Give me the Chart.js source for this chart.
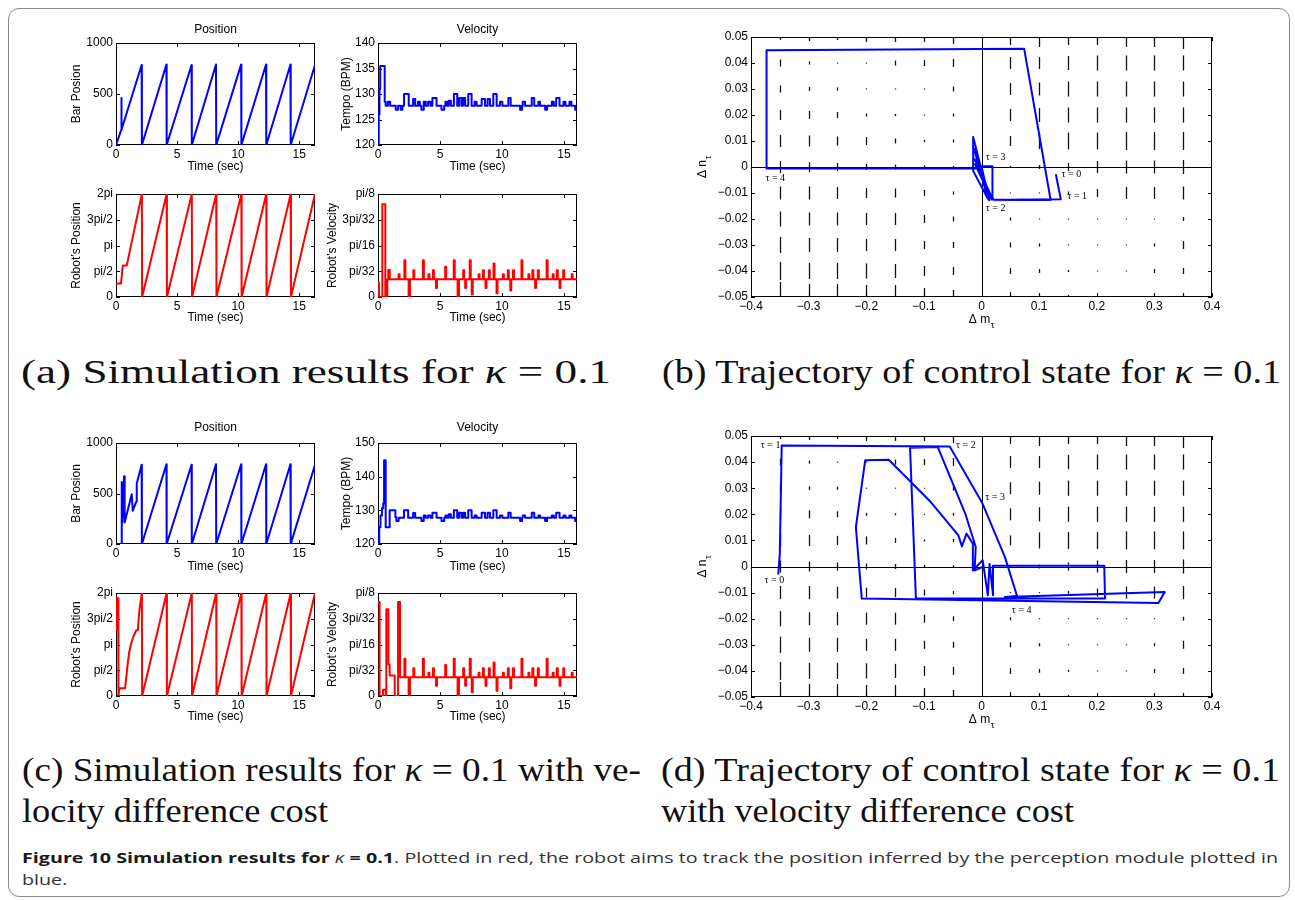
<!DOCTYPE html>
<html>
<head>
<meta charset="utf-8">
<title>Figure 10</title>
<script src="https://cdn.jsdelivr.net/npm/chart.js@4.4.0/dist/chart.umd.min.js"></script>
<style>
body { margin:0; background:#fff; }
#fig { position:relative; width:1295px; height:900px; overflow:hidden; background:#fff; }
#frame { position:absolute; left:8px; top:8px; width:1282px; height:889px; border:1px solid #8a8a8a; border-radius:11px; box-sizing:border-box; }
canvas { position:absolute; }
.sub { position:absolute; font-family:"Liberation Serif", "Times New Roman", Times, serif; font-size:33px; line-height:1.2; white-space:nowrap; transform-origin:0 50%; color:#111; }
.cap { position:absolute; font-family:"Open Sans", sans-serif; font-size:15px; line-height:1.2; white-space:nowrap; transform-origin:0 50%; color:#333; }
.cap b { color:#1a1a1a; }
</style>
</head>
<body>
<div id="fig"><div id="frame"></div></div>
<script>
Chart.defaults.font.family = '"Liberation Sans", Arial, Helvetica, sans-serif';
Chart.defaults.font.size = 12;
Chart.defaults.color = '#000';

// ---- ticks ----
const timeTicks = [0, 5, 10, 15];
const timeTickLabels = ['0', '5', '10', '15'];
const barTicks = [0, 500, 1000];
const barTickLabels = ['0', '500', '1000'];
const tempoTicksA = [120, 125, 130, 135, 140];
const tempoTicksC = [120, 130, 140, 150];
const robotPosTicks = [0, 1, 2, 3, 4];          // units of pi/2
const robotPosLabels = ['0', 'pi/2', 'pi', '3pi/2', '2pi'];
const robotVelTicks = [0, 1, 2, 3, 4];          // units of pi/32
const robotVelLabels = ['0', 'pi/32', 'pi/16', '3pi/32', 'pi/8'];
const mTicks = [-0.4, -0.3, -0.2, -0.1, 0, 0.1, 0.2, 0.3, 0.4];
const mTickLabels = ['\u22120.4', '\u22120.3', '\u22120.2', '\u22120.1', '0', '0.1', '0.2', '0.3', '0.4'];
const nTicks = [-0.05, -0.04, -0.03, -0.02, -0.01, 0, 0.01, 0.02, 0.03, 0.04, 0.05];
const nTickLabels = ['\u22120.05', '\u22120.04', '\u22120.03', '\u22120.02', '\u22120.01', '0', '0.01', '0.02', '0.03', '0.04', '0.05'];

// ---- (a) kappa = 0.1 ----
const barPosA = [[0,0],[0.42,145],[0.44,460],[0.46,150],[2.10,785],[2.12,0],[4.13,790],[4.15,0],[6.19,785],[6.21,0],
  [8.19,790],[8.21,0],[10.25,790],[10.27,0],[12.29,790],[12.31,0],[14.29,790],[14.31,0],[16.3,785]];
const tempoA = [[0,120],[0.06,126],[0.12,131],[0.18,135.5],[0.54,128.5],[0.62,127.7],[0.8,128.5],[0.98,127.7],
  [1.43,126.9],[1.62,127.7],[1.83,126.9],[1.97,127.7],[2.10,130],[2.48,127.7],[2.83,129],[3.0,127.7],
  [3.23,128.5],[3.37,127.7],[3.50,126.9],[3.69,128.5],[3.85,127.7],[4.04,128.5],[4.23,127.7],[4.39,129.2],[4.72,127.7],
  [5.12,126.9],[5.34,127.7],[5.44,128.5],[5.58,127.7],[5.71,128.7],[5.88,127.7],[6.12,130],[6.39,127.7],
  [6.55,129.2],[6.74,127.7],[6.87,129.2],[7.03,127.7],[7.28,130],[7.55,127.7],[7.79,128.5],[7.95,127.7],
  [8.36,129],[8.63,127.7],[8.84,129],[9.03,127.7],[9.30,130],[9.57,127.7],[9.84,128.5],[10.03,127.7],
  [10.51,129.2],[10.70,127.7],[11.46,126.9],[11.62,127.7],[11.67,128.5],[11.86,127.7],[12.40,129.2],[12.60,127.7],
  [12.94,128.5],[13.07,127.7],[13.48,126.9],[13.64,127.7],[14.02,128.5],[14.18,127.7],[14.37,129.2],[14.64,127.7],
  [14.96,128.5],[15.12,127.7],[15.44,128.5],[15.60,127.7],[15.90,126.9],[16.05,126.9]];
const robotPosA = [[0,0.52],[0.40,0.52],[0.47,0.8],[0.52,1.1],[0.58,1.22],[0.88,1.22],[2.12,4],[2.14,0],[4.15,4],[4.17,0],
  [6.21,4],[6.23,0],[8.21,4],[8.23,0],[10.27,4],[10.29,0],[12.31,4],[12.33,0],[14.31,4],[14.33,0],[16.3,4]];
const robotVelA = [[0,0.55],[0.08,0],[0.35,3.6],[0.59,0],[0.75,0.69],[0.83,1.05],[0.95,0.69],
  [1.66,0.88],[1.74,0.69],[2.13,1.43],[2.21,0.69],[2.47,0],[2.58,0.69],[2.85,1.04],[2.93,0.69],
  [3.62,1.43],[3.70,0.69],[4.07,0.88],[4.15,0.69],[4.43,1.04],[4.51,0.69],[4.68,0.35],[4.76,0.69],
  [5.42,1.17],[5.50,0.69],[6.11,1.43],[6.19,0.69],[6.42,0],[6.53,0.69],[6.87,1.04],[6.95,0.69],
  [7.03,0.35],[7.11,0.69],[7.40,1.43],[7.48,0.69],[7.56,0.1],[7.64,0.69],[8.11,0.88],[8.19,0.69],
  [8.46,1.04],[8.54,0.69],[8.67,0.35],[8.75,0.69],[8.94,1.04],[9.02,0.69],[9.32,1.3],[9.40,0.69],
  [9.56,0.15],[9.64,0.69],[10.07,0.88],[10.15,0.69],[10.47,1.04],[10.55,0.69],[10.67,0.25],[10.75,0.69],
  [10.89,1.04],[10.97,0.69],[11.57,1.43],[11.65,0.69],[12.13,0.88],[12.21,0.69],[12.45,1.04],[12.53,0.69],
  [12.67,0.35],[12.75,0.69],[12.89,1.04],[12.97,0.69],[13.60,1.43],[13.68,0.69],[14.09,0.88],[14.17,0.69],
  [14.42,1.04],[14.50,0.69],[14.64,0.35],[14.72,0.69],[14.94,1.04],[15.02,0.69],[15.62,0.88],[15.70,0.69],[16.05,0.69]];

// ---- (c) kappa = 0.1 with velocity difference cost ----
const barPosC = [[0,0],[0.46,0],[0.47,615],[0.52,214],[0.66,671],[0.71,214],[1.29,493],[1.37,329],[1.65,418],[1.70,599],
  [2.10,785],[2.12,0],[4.13,790],[4.15,0],[6.19,785],[6.21,0],[8.19,790],[8.21,0],[10.25,790],[10.27,0],
  [12.29,790],[12.31,0],[14.29,790],[14.31,0],[16.3,785]];
const tempoC = [[0,120],[0.1,125],[0.2,128.5],[0.32,130.6],[0.42,132],[0.49,144.9],[0.62,125],[0.94,130],[1.40,128],
  [1.48,126.8],[1.67,127.8],[2.10,130],[2.43,127.8],[2.83,129.2],[3.0,127.8],[3.50,126.8],[3.69,128.5],[3.85,127.8],
  [4.04,128.5],[4.23,127.8],[4.39,129.3],[4.72,127.8],[5.12,126.8],[5.34,127.8],[5.44,128.5],[5.58,127.8],
  [5.71,128.8],[5.88,127.8],[6.12,130],[6.39,127.8],[6.55,129.3],[6.74,127.8],[6.87,129.3],[7.03,127.8],
  [7.28,130],[7.55,127.8],[7.79,128.5],[7.95,127.8],[8.36,129.3],[8.63,127.8],[8.84,129.3],[9.03,127.8],
  [9.30,130],[9.57,127.8],[9.84,128.5],[10.03,127.8],[10.51,129.3],[10.70,127.8],[11.46,126.8],[11.62,127.8],
  [11.67,128.5],[11.86,127.8],[12.40,129.3],[12.60,127.8],[12.94,128.5],[13.07,127.8],[13.48,126.8],[13.64,127.8],
  [14.02,128.5],[14.18,127.8],[14.37,129.3],[14.64,127.8],[14.96,128.5],[15.12,127.8],[15.44,128.5],[15.60,127.8],
  [15.90,126.8],[16.05,126.8]];
const robotPosC = [[0,2.57],[0.03,3.8],[0.18,3.8],[0.20,0],[0.27,0.3],[0.74,0.3],[0.82,0.62],[0.93,1.14],[1.07,1.66],
  [1.21,1.99],[1.43,2.31],[1.65,2.55],[1.79,2.55],[1.84,2.9],[1.92,3.35],[2.12,4],[2.14,0],[4.15,4],[4.17,0],
  [6.21,4],[6.23,0],[8.21,4],[8.23,0],[10.27,4],[10.29,0],[12.31,4],[12.33,0],[14.31,4],[14.33,0],[16.3,4]];
const robotVelC = [[0,3.65],[0.13,0],[0.40,0.24],[0.62,0],[0.67,3.37],[0.84,1.22],[0.94,0.8],[1.35,0],[1.62,3.65],[1.78,0.73],
  [2.13,1.45],[2.21,0.73],[2.47,0.05],[2.58,0.73],[2.85,1.08],[2.93,0.73],[3.62,1.45],[3.70,0.73],
  [4.07,0.9],[4.15,0.73],[4.43,1.08],[4.51,0.73],[4.68,0.4],[4.76,0.73],[5.42,1.2],[5.50,0.73],
  [6.11,1.45],[6.19,0.73],[6.42,0],[6.53,0.73],[6.87,1.08],[6.95,0.73],[7.03,0.4],[7.11,0.73],
  [7.40,1.45],[7.48,0.73],[7.56,0.15],[7.64,0.73],[8.11,0.9],[8.19,0.73],[8.46,1.08],[8.54,0.73],
  [8.67,0.4],[8.75,0.73],[8.94,1.08],[9.02,0.73],[9.32,1.3],[9.40,0.73],[9.56,0.2],[9.64,0.73],
  [10.07,0.9],[10.15,0.73],[10.47,1.08],[10.55,0.73],[10.67,0.3],[10.75,0.73],[10.89,1.08],[10.97,0.73],
  [11.57,1.45],[11.65,0.73],[12.13,0.9],[12.21,0.73],[12.45,1.08],[12.53,0.73],[12.67,0.4],[12.75,0.73],
  [12.89,1.08],[12.97,0.73],[13.60,1.45],[13.68,0.73],[14.09,0.9],[14.17,0.73],[14.42,1.08],[14.50,0.73],
  [14.64,0.4],[14.72,0.73],[14.94,1.08],[15.02,0.73],[15.62,0.9],[15.70,0.73],[16.05,0.73]];

// ---- control state trajectories (b), (d) ----
const trajB = [[0.129,-0.0028],[0.1376,-0.0124],[0.022,-0.0128],[0.019,-0.0118],[0.019,0.0003],[0.0,0.0003],
  [0.0133,-0.0128],[-0.0145,0.0115],[-0.0145,-0.0015],[0.011,-0.0122],[-0.013,0.007],[0.0155,-0.0118],
  [-0.012,0.003],[0.0175,-0.0115],[-0.011,0.001],[0.0175,-0.0125],[0.120,-0.0127],[0.074,0.0455],[-0.373,0.0449],
  [-0.373,-0.0006],[-0.005,-0.0006]];
const trajD = [[-0.3527,-0.003],[-0.350,0.0049],[-0.3467,0.0464],[-0.0551,0.0460],[0.0018,0.0241],[0.0407,0.0036],
  [0.0617,-0.0113],[0.0407,-0.0117],[0.318,-0.0098],[0.307,-0.0140],[-0.2078,-0.0123],[-0.218,0.0151],
  [-0.2018,0.0407],[-0.161,0.0409],[-0.088,0.0247],[-0.040,0.0119],[-0.034,0.0077],[-0.026,0.0126],
  [-0.015,0.0087],[-0.015,-0.0015],[0.002,0.0024],[0.011,-0.011],[0.014,0.001],[0.020,-0.011],[0.020,0.0003],
  [0.213,0.0003],[0.2144,-0.0123],[-0.1138,-0.0123],[-0.124,0.0455],[-0.076,0.0458],[-0.028,0.0202],
  [-0.010,0.0075],[-0.012,-0.0015],[0.004,0.0]];
const tauLabelsB = [['\u03c4 = 0',0.139,-0.003],['\u03c4 = 1',0.149,-0.0113],['\u03c4 = 2',0.0075,-0.016],
  ['\u03c4 = 3',0.0075,0.0038],['\u03c4 = 4',-0.375,-0.0045]];
const tauLabelsD = [['\u03c4 = 1',-0.383,0.0464],['\u03c4 = 2',-0.0443,0.0464],['\u03c4 = 3',0.0066,0.0264],
  ['\u03c4 = 0',-0.3766,-0.0053],['\u03c4 = 4',0.0527,-0.0168]];

// quiver field: vertical component (units of 0.001) at each grid point, rows top to bottom
const quiverCols = [-0.35,-0.3,-0.25,-0.2,-0.15,-0.1,-0.05,0,0.05,0.1,0.15,0.2,0.25,0.3,0.35];
const quiverRows = [0.05,0.04,0.03,0.02,0.01,0,-0.01,-0.02,-0.03,-0.04,-0.05];
const quiverMag = [
  [2.3,3.1,2.3,3.8,3.8,3.8,5.4,0,6.2,7.7,6.2,6.2,7.7,7.7,9.2],
  [2.7,1.2,0.4,0.4,1.9,2.3,3.1,0,4.6,4.6,5.4,5.8,5.8,5.8,5.8],
  [2.7,1.5,1.2,0.4,0.4,0.4,1.9,0,4.6,5.0,5.8,5.8,5.8,5.8,5.8],
  [3.8,3.1,2.3,1.2,0.8,0.4,1.2,0,4.6,5.4,5.8,5.8,5.8,5.8,5.8],
  [4.6,4.2,3.5,3.1,1.9,0.8,1.2,0,3.8,6.2,6.5,6.5,6.9,6.9,6.9],
  [4.6,3.8,3.1,2.3,1.9,1.2,0.8,0,0.8,1.5,3.1,4.6,5.0,5.0,5.4],
  [5.0,5.0,4.6,3.8,3.5,2.3,1.2,0,0.4,0.4,1.2,3.1,4.6,4.6,5.0],
  [5.8,5.0,5.0,4.6,4.6,3.1,1.9,0,1.2,0.4,0.4,0.4,0.4,0.4,1.5],
  [6.2,5.4,5.4,4.6,4.6,3.1,2.3,0,1.9,1.2,0.4,0.4,0.4,1.2,3.1],
  [6.9,6.2,6.2,5.8,5.4,3.8,3.1,0,2.3,1.5,0.8,0.4,0.4,1.5,2.3],
  [11.5,10.0,10.0,9.2,9.2,6.9,5.4,0,3.8,2.3,1.5,0.8,0.8,2.3,3.1]];

// ---- drawing helpers ----
const matlabAxes = {
  id: 'matlabAxes',
  beforeDatasetsDraw(chart, args, o) {
    const {ctx, chartArea: a, scales: {x, y}} = chart;
    ctx.save();
    ctx.beginPath(); ctx.rect(a.left, a.top, a.right - a.left, a.bottom - a.top); ctx.clip();
    if (o.quiver) {
      ctx.strokeStyle = '#111'; ctx.lineWidth = 1.3;
      quiverRows.forEach((yv, r) => quiverCols.forEach((xv, c) => {
        const m = o.quiver[r][c] / 1000;
        if (!m) return;
        const px = Math.round(x.getPixelForValue(xv)) + 0.5;
        ctx.beginPath();
        ctx.moveTo(px, y.getPixelForValue(yv - m / 2));
        ctx.lineTo(px, y.getPixelForValue(yv + m / 2));
        ctx.stroke();
      }));
    }
    if (o.zeroLines) {
      ctx.strokeStyle = '#000'; ctx.lineWidth = 1;
      const x0 = Math.round(x.getPixelForValue(0)) + 0.5, y0 = Math.round(y.getPixelForValue(0)) + 0.5;
      ctx.beginPath();
      ctx.moveTo(a.left, y0); ctx.lineTo(a.right, y0);
      ctx.moveTo(x0, a.top); ctx.lineTo(x0, a.bottom);
      ctx.stroke();
    }
    ctx.restore();
    // box + inward ticks
    ctx.save();
    ctx.strokeStyle = '#000'; ctx.lineWidth = 1;
    ctx.strokeRect(a.left + 0.5, a.top + 0.5, a.right - a.left - 1, a.bottom - a.top - 1);
    ctx.beginPath();
    x.ticks.forEach(t => {
      const p = Math.round(x.getPixelForValue(t.value)) + 0.5;
      ctx.moveTo(p, a.bottom); ctx.lineTo(p, a.bottom - 4);
      ctx.moveTo(p, a.top); ctx.lineTo(p, a.top + 4);
    });
    y.ticks.forEach(t => {
      const p = Math.round(y.getPixelForValue(t.value)) + 0.5;
      ctx.moveTo(a.left, p); ctx.lineTo(a.left + 4, p);
      ctx.moveTo(a.right, p); ctx.lineTo(a.right - 4, p);
    });
    ctx.stroke();
    ctx.restore();
  },
  afterDatasetsDraw(chart, args, o) {
    const {ctx, chartArea: a, scales: {x, y}} = chart;
    ctx.save();
    if (o.tau) {
      ctx.fillStyle = '#000';
      ctx.font = '10px "Liberation Serif", "Times New Roman", serif';
      ctx.textAlign = 'left'; ctx.textBaseline = 'middle';
      o.tau.forEach(([txt, xv, yv]) => ctx.fillText(txt, x.getPixelForValue(xv), y.getPixelForValue(yv)));
    }
    if (o.deltaTitles) {
      const big = '12px "Liberation Sans", Arial, sans-serif', small = '10px "Liberation Serif", "Times New Roman", serif';
      ctx.fillStyle = '#000'; ctx.textBaseline = 'alphabetic'; ctx.textAlign = 'left';
      const drawPair = (main, cx, base) => {
        ctx.font = big; const w1 = ctx.measureText(main).width;
        ctx.font = small; const w2 = ctx.measureText('\u03c4').width;
        const x1 = cx - (w1 + w2) / 2;
        ctx.font = big; ctx.fillText(main, x1, base);
        ctx.font = small; ctx.fillText('\u03c4', x1 + w1 + 0.5, base + 5);
      };
      drawPair('\u0394 m', (a.left + a.right) / 2, a.bottom + 26);
      ctx.save();
      ctx.translate(a.left - 45, (a.top + a.bottom) / 2);
      ctx.rotate(-Math.PI / 2);
      drawPair('\u0394 n', 0, 0);
      ctx.restore();
    }
    ctx.restore();
  }
};

function addCanvas(id, left, top, w, h) {
  const c = document.createElement('canvas');
  c.id = id; c.width = w; c.height = h;
  c.style.left = left + 'px'; c.style.top = top + 'px';
  c.style.width = w + 'px'; c.style.height = h + 'px';
  document.getElementById('fig').appendChild(c);
  return c;
}

function scaleOpts(min, max, ticks, labels, extra) {
  return Object.assign({
    type: 'linear', min: min, max: max,
    afterBuildTicks: sc => { sc.ticks = ticks.map(v => ({value: v})); },
    grid: {display: false, drawTicks: false},
    border: {display: false},
    ticks: {autoSkip: false, maxRotation: 0, color: '#000', font: {size: 12},
      callback: v => labels[ticks.indexOf(v)]}
  }, extra);
}

function timePlot(s) {
  const L = 62, R = 8, T = s.title ? 26 : 12;
  const [l, t, r, b] = s.box;
  const left = l - L, top = t - T;
  const bottom = Math.round(s.xTitleY + 7.2);
  const w = r - l + L + R, h = bottom - top;
  const cv = addCanvas(s.id, left, top, w, h);
  const tPadTop = s.title ? s.titleY - top - 7.2 : 0;
  const tPadBottom = s.title ? T - tPadTop - 14.4 : 0;
  const x = scaleOpts(0, s.xMax, timeTicks, timeTickLabels, {
    afterFit: sc => { sc.height = bottom - b; },
    title: {display: true, text: 'Time (sec)', color: '#000', font: {size: 12}, padding: {top: 0, bottom: 0}}
  });
  x.ticks.padding = 2;
  const y = scaleOpts(s.yMin, s.yMax, s.yTicks, s.yLabels, {
    afterFit: sc => { sc.width = L; },
    title: {display: true, text: s.yTitle, color: '#000', font: {size: 12}, padding: {top: s.yTitleX - left - 7.2, bottom: 0}}
  });
  y.ticks.padding = 3;
  new Chart(cv, {
    type: 'scatter',
    data: {datasets: [{
      data: s.data.map(p => ({x: p[0], y: p[1]})),
      showLine: true, borderColor: s.color, borderWidth: 2, pointRadius: 0,
      stepped: s.stepped || false, tension: 0, borderJoinStyle: 'round'
    }]},
    options: {
      responsive: false, animation: false, devicePixelRatio: 1, events: [],
      layout: {padding: {left: 0, right: R, top: s.title ? 0 : T, bottom: 0}},
      plugins: {
        legend: {display: false}, tooltip: {enabled: false},
        title: {display: !!s.title, text: s.title || '', fullSize: false, color: '#000',
          font: {size: 12, weight: 'normal'}, padding: {top: tPadTop, bottom: tPadBottom}},
        matlabAxes: {}
      },
      scales: {x: x, y: y}
    },
    plugins: [matlabAxes]
  });
}

function statePlot(s) {
  const L = 62, R = 22, T = 12, B = 40;
  const [l, t, r, b] = s.box;
  const cv = addCanvas(s.id, l - L, t - T, r - l + L + R, b - t + T + B);
  const x = scaleOpts(-0.4, 0.4, mTicks, mTickLabels, {afterFit: sc => { sc.height = B; }});
  x.ticks.padding = 2;
  const y = scaleOpts(-0.05, 0.05, nTicks, nTickLabels, {afterFit: sc => { sc.width = L; }});
  y.ticks.padding = 3;
  new Chart(cv, {
    type: 'scatter',
    data: {datasets: [{
      data: s.data.map(p => ({x: p[0], y: p[1]})),
      showLine: true, borderColor: '#0000ff', borderWidth: 2, pointRadius: 0, tension: 0, borderJoinStyle: 'round'
    }]},
    options: {
      responsive: false, animation: false, devicePixelRatio: 1, events: [],
      layout: {padding: {left: 0, right: R, top: T, bottom: 0}},
      plugins: {legend: {display: false}, tooltip: {enabled: false},
        matlabAxes: {quiver: quiverMag, zeroLines: true, tau: s.tau, deltaTitles: true}},
      scales: {x: x, y: y}
    },
    plugins: [matlabAxes]
  });
}

// ---- panel (a) ----
timePlot({id: 'a1', box: [116, 43, 315, 145], title: 'Position', titleY: 30, xTitleY: 167, yTitle: 'Bar Posion', yTitleX: 77,
  xMax: 16.3, yMin: 0, yMax: 1000, yTicks: barTicks, yLabels: barTickLabels, data: barPosA, color: '#0000ff'});
timePlot({id: 'a2', box: [378, 43, 577, 145], title: 'Velocity', titleY: 30, xTitleY: 167, yTitle: 'Tempo (BPM)', yTitleX: 347,
  xMax: 16.05, yMin: 120, yMax: 140, yTicks: tempoTicksA, yLabels: tempoTicksA.map(String), data: tempoA, color: '#0000ff', stepped: true});
timePlot({id: 'a3', box: [116, 194, 315, 297], xTitleY: 318, yTitle: 'Robot\u2019s Position', yTitleX: 77,
  xMax: 16.3, yMin: 0, yMax: 4, yTicks: robotPosTicks, yLabels: robotPosLabels, data: robotPosA, color: '#ff0000'});
timePlot({id: 'a4', box: [378, 194, 577, 297], xTitleY: 318, yTitle: 'Robot\u2019s Velocity', yTitleX: 333,
  xMax: 16.05, yMin: 0, yMax: 4, yTicks: robotVelTicks, yLabels: robotVelLabels, data: robotVelA, color: '#ff0000', stepped: true});

// ---- panel (c) ----
timePlot({id: 'c1', box: [116, 443, 315, 544], title: 'Position', titleY: 428, xTitleY: 567, yTitle: 'Bar Posion', yTitleX: 77,
  xMax: 16.3, yMin: 0, yMax: 1000, yTicks: barTicks, yLabels: barTickLabels, data: barPosC, color: '#0000ff'});
timePlot({id: 'c2', box: [378, 443, 577, 544], title: 'Velocity', titleY: 428, xTitleY: 567, yTitle: 'Tempo (BPM)', yTitleX: 347,
  xMax: 16.05, yMin: 120, yMax: 150, yTicks: tempoTicksC, yLabels: tempoTicksC.map(String), data: tempoC, color: '#0000ff', stepped: true});
timePlot({id: 'c3', box: [116, 593, 315, 696], xTitleY: 717, yTitle: 'Robot\u2019s Position', yTitleX: 77,
  xMax: 16.3, yMin: 0, yMax: 4, yTicks: robotPosTicks, yLabels: robotPosLabels, data: robotPosC, color: '#ff0000'});
timePlot({id: 'c4', box: [378, 593, 577, 696], xTitleY: 717, yTitle: 'Robot\u2019s Velocity', yTitleX: 333,
  xMax: 16.05, yMin: 0, yMax: 4, yTicks: robotVelTicks, yLabels: robotVelLabels, data: robotVelC, color: '#ff0000', stepped: true});

// ---- panels (b), (d) ----
statePlot({id: 'b', box: [751, 37, 1212, 297], data: trajB, tau: tauLabelsB});
statePlot({id: 'd', box: [751, 436, 1212, 697], data: trajD, tau: tauLabelsD});

// ---- captions ----
const captionLines = [
  ['sub', '(a) Simulation results for <i>\u03ba</i> = 0.1', 21, 373, 590],
  ['sub', '(b) Trajectory of control state for <i>\u03ba</i> = 0.1', 662, 373, 619],
  ['sub', '(c) Simulation results for <i>\u03ba</i> = 0.1 with ve-', 22, 771, 619],
  ['sub', 'locity difference cost', 22, 812, 306],
  ['sub', '(d) Trajectory of control state for <i>\u03ba</i> = 0.1', 661, 771, 619],
  ['sub', 'with velocity difference cost', 661, 812, 413],
  ['cap', '<b>Figure 10 Simulation results for</b> <i>\u03ba</i> <b>= 0.1</b>. Plotted in red, the robot aims to track the position inferred by the perception module plotted in', 22, 857, 1256],
  ['cap', 'blue.', 22, 879, 0]
];
let lastK = 1;
captionLines.forEach(([cls, html, x, cy, w]) => {
  const el = document.createElement('div');
  el.className = cls;
  el.innerHTML = html;
  document.getElementById('fig').appendChild(el);
  const fs = parseFloat(getComputedStyle(el).fontSize);
  el.style.left = x + 'px';
  el.style.top = (cy - fs * 0.6) + 'px';
  const k = w ? w / el.getBoundingClientRect().width : lastK;
  lastK = k;
  el.style.transform = 'scaleX(' + k + ')';
});
</script>
</body>
</html>
